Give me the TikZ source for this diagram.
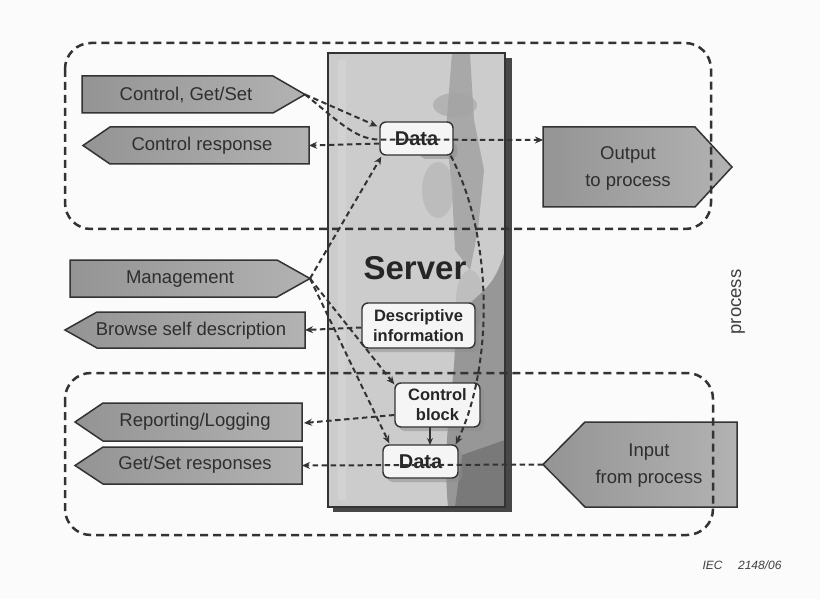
\documentclass[tikz,border=0pt]{standalone}
\usepackage{fontspec}
\setmainfont{Liberation Sans}
\usetikzlibrary{calc,arrows.meta}
\definecolor{ink}{HTML}{333333}
\definecolor{paper}{HTML}{FBFBFB}
\tikzset{
  sigbody/.style={rectangle, inner sep=0pt, outer sep=0pt},
  sigshape/.style={draw=ink, line width=1.5pt, left color=black!42, right color=black!30, line join=miter},
  lbl/.style={inner sep=0pt, align=center, text=black!82, font=\fontsize{18.5}{27}\selectfont},
  ibox/.style={draw=ink, line width=1.4pt, rounded corners=6pt, fill=black!4, inner sep=0pt,
    align=center, text=black!85, font=\bfseries\fontsize{16.5}{20}\selectfont},
  ishadow/.style={fill=black!45, rounded corners=6pt, opacity=.5},
  conn/.style={draw=ink, line width=2pt, dash pattern=on 5.5pt off 3.5pt, -{Stealth[length=8pt,width=7pt]}},
  solidconn/.style={draw=ink, line width=1.6pt, -{Stealth[length=7pt,width=6pt]}},
  region/.style={draw=ink, line width=2.5pt, dash pattern=on 8pt off 5pt, rounded corners=26pt},
}
% right-pointing tag: name, centre x, centre y, body width, body height, tip length
\newcommand\tagright[6]{%
  \node[sigbody, minimum width=#4, minimum height=#5] (#1) at (#2,#3) {};
  \path[sigshape] (#1.north west) -- (#1.north east) -- ($(#1.east)+(#6,0)$) coordinate (#1-tip)
    -- (#1.south east) -- (#1.south west) -- cycle;
}
% left-pointing tag
\newcommand\tagleft[6]{%
  \node[sigbody, minimum width=#4, minimum height=#5] (#1) at (#2,#3) {};
  \path[sigshape] (#1.north east) -- (#1.north west) -- ($(#1.west)+(-#6,0)$) coordinate (#1-tip)
    -- (#1.south west) -- (#1.south east) -- cycle;
}
\begin{document}
\begin{tikzpicture}[x=1pt,y=-1pt]
\useasboundingbox[fill=paper] (0,0) rectangle (820,599);

% ---- server block with its shadow and mottled fill
\fill[black!72] (333,58) rectangle (512,512);
\node[sigbody, fill=black!20, minimum width=177, minimum height=454] (srv) at (416.5,280) {};
\begin{scope}
  \clip (srv.north west) rectangle (srv.south east);
  \fill[black!40, opacity=.7] (452,53) -- (470,53) -- (474,120) -- (484,170) -- (478,230)
    -- (470,270) -- (455,250) -- (452,190) -- (446,130) -- cycle;
  \fill[black!36, opacity=.6] (455,105) ellipse [x radius=22, y radius=12];
  \fill[black!32, opacity=.5] (438,190) ellipse [x radius=16, y radius=28];
  \fill[black!30, opacity=.5] (470,300) ellipse [x radius=14, y radius=30];
  \fill[black!46, opacity=.8] (452,330) .. controls (462,360) and (440,420) .. (448,507)
    -- (505,507) -- (505,250) .. controls (492,300) and (470,290) .. cycle;
  \fill[black!56, opacity=.75] (462,455) -- (505,440) -- (505,507) -- (455,507) -- cycle;
  \fill[white, opacity=.12] (338,60) rectangle (346,500);
\end{scope}
\draw[ink, line width=1.3pt] (srv.north west) rectangle (srv.south east);
\node[inner sep=0pt, text=black!85, font=\bfseries\fontsize{33}{36}\selectfont] (srv-t) at (415,268) {Server};

% ---- tags on the left and right
\tagright{cgs}{177.5}{94.5}{191}{37}{32}
\tagleft{cr}{209.5}{145.5}{199}{37}{27}
\tagright{out}{619}{167}{152}{80}{37}
\tagright{mg}{173.5}{278.5}{207}{37}{33}
\tagleft{bsd}{201}{330}{208}{36}{32}
\tagleft{rl}{202.5}{422}{199}{38}{28}
\tagleft{gsr}{202.5}{465.5}{199}{37}{28}
\tagleft{ip}{661}{464.5}{152}{85}{42}

\node[lbl] (cgs-t) at (186,95) {Control, Get/Set};
\node[lbl] (cr-t) at (202,146) {Control response};
\node[lbl] (out-t) at (628,168) {Output\\to process};
\node[lbl] (mg-t) at (180,279) {Management};
\node[lbl] (bsd-t) at (191,331) {Browse self description};
\node[lbl] (rl-t) at (195,422) {Reporting/Logging};
\node[lbl] (gsr-t) at (195,465) {Get/Set responses};
\node[lbl] (ip-t) at (649,466) {Input\\from process};

% ---- boxes inside the server
\fill[ishadow] (420,142) rectangle (457,159);
\fill[ishadow] (366,307) rectangle (479,352);
\fill[ishadow] (399,387) rectangle (484,431);
\fill[ishadow] (387,449) rectangle (462,482);
\node[ibox, minimum width=73, minimum height=33, font=\bfseries\fontsize{20}{22}\selectfont] (dt) at (416.5,138.5) {Data};
\node[ibox, minimum width=113, minimum height=45] (di) at (418.5,325.5) {Descriptive\\information};
\node[ibox, minimum width=85, minimum height=44] (cb) at (437.5,405) {Control\\block};
\node[ibox, minimum width=75, minimum height=33, font=\bfseries\fontsize{20}{22}\selectfont] (db) at (420.5,461.5) {Data};

% ---- connectors
\draw[conn] (cgs-tip) -- ($(dt.north west)+(-2,5)$);
\draw[conn] (cgs-tip) .. controls (335,118) and (355,140) .. ($(dt.west)+(0,1)$) -- ($(out.west)+(0,-27)$);
\draw[conn] ($(dt.west)+(0,5)$) -- (cr.east);
\draw[conn] (mg-tip) -- ($(dt.south west)+(2,1)$);
\draw[conn] (mg-tip) -- ($(cb.north west)+(0,2)$);
\draw[conn] (mg-tip) -- ($(db.north west)+(7,-1)$);
\draw[conn] ($(di.west)+(0,2)$) -- (bsd.east);
\draw[conn] ($(cb.west)+(0,10)$) -- ($(rl.east)+(2,1)$);
\draw[conn] (ip-tip) -- (gsr.east);
\draw[conn] ($(dt.south east)+(-3,0)$) .. controls (495,240) and (492,370) .. ($(db.north east)+(-3,0)$);
\coordinate (cb-foot) at (430,427);
\coordinate (db-head) at (430,445);
\draw[solidconn] (cb-foot) -- (db-head);

% ---- dashed regions
\draw[region] (65,43) rectangle (711,229);
\draw[region] (65,373) rectangle (713,535);

% ---- side label and figure number
\node[inner sep=0pt, rotate=90, text=black!75, font=\fontsize{18.5}{22}\selectfont] (proc) at (738,302) {process};
\node[inner sep=0pt, text=black!75, font=\itshape\fontsize{12}{14}\selectfont] (iec) at (742,565) {IEC\hspace{1.3em}2148/06};
\end{tikzpicture}
\end{document}
